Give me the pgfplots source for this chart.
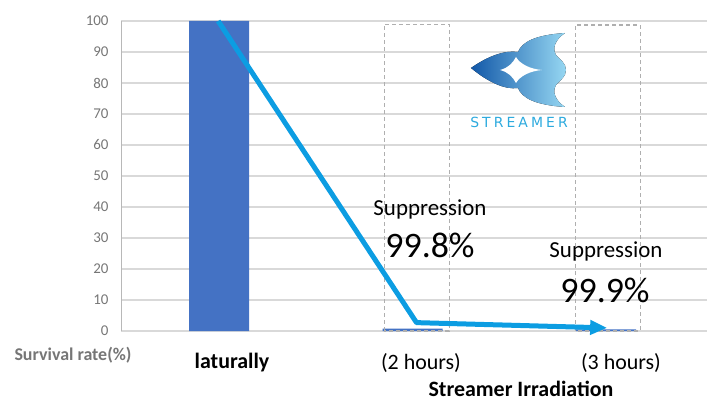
\documentclass[border=0pt]{standalone}
\usepackage{pgfplots}
\pgfplotsset{compat=1.18}
\usepackage{fontspec}
\setmainfont{Carlito}
\newfontfamily\logofont[LetterSpace=22]{DejaVu Sans}
\usetikzlibrary{arrows.meta}
\definecolor{barblue}{RGB}{68,114,196}
\definecolor{lineblue}{RGB}{12,157,226}
\definecolor{gridgray}{RGB}{217,217,217}
\definecolor{ticktxt}{RGB}{118,118,118}
\definecolor{dashgray}{RGB}{175,175,175}
\definecolor{logodark}{RGB}{18,88,168}
\definecolor{logolight}{RGB}{150,215,242}
\definecolor{logotext}{RGB}{45,170,222}
\begin{document}
\begin{tikzpicture}
\path[use as bounding box] (-121bp,-72bp) rectangle (586bp,331bp);
\begin{axis}[
  at={(0,0)}, anchor=south west,
  scale only axis, width=586bp, height=310bp,
  xmin=-0.507, xmax=2.521, ymin=0, ymax=100,
  ytick={0,10,...,100}, xtick=\empty,
  ymajorgrids, grid style={gridgray, line width=1.2bp},
  axis lines*=left,
  axis line style={draw=gridgray!85!black, line width=1bp},
  x axis line style={draw=gridgray, line width=1.2bp},
  major tick length=0pt,
  /pgf/number format/assume math mode=true,
  yticklabel style={font=\fontsize{15}{15}\selectfont, text=ticktxt, xshift=-9bp},
  clip=false,
]
\addplot[ybar, bar width=60bp, fill=barblue, draw=none] coordinates {(0,100) (1,0.8) (2,0.5)};
\draw[dashgray, line width=1.1bp, dash pattern=on 4bp off 3bp] (axis cs:0.853,0) rectangle (axis cs:1.19,99);
\draw[dashgray, line width=1.1bp, dash pattern=on 4bp off 3bp] (axis cs:1.84,0) rectangle (axis cs:2.176,98.7);
\addplot[lineblue, line width=5bp, line join=round, -{Triangle[length=17bp,width=14bp]}] coordinates {(-0.005,100) (1.02,2.7) (2.005,1.0)};
\end{axis}
\begin{scope}[x=1bp, y=-1bp, shift={(-121bp,331bp)}]
  % logo
  \fill[left color=logodark, right color=logolight]
    (471,68) .. controls (488,56) and (505,50) .. (518,52)
    .. controls (522,42) and (535,35) .. (565,33)
    .. controls (555,40) and (552,48) .. (556,55)
    .. controls (560,60) and (566,63) .. (566,70)
    .. controls (566,77) and (560,80) .. (556,85)
    .. controls (552,92) and (555,100) .. (565,107)
    .. controls (535,105) and (522,98) .. (518,88)
    .. controls (505,90) and (488,82) .. (471,68) -- cycle;
  \fill[white] (500,70) .. controls (508,68) and (513,63) .. (516,57)
    .. controls (520,64) and (530,69) .. (542,70)
    .. controls (530,71) and (520,76) .. (516,83)
    .. controls (513,77) and (508,72) .. (500,70) -- cycle;
  \node[text=logotext, font=\logofont\fontsize{14}{14}\selectfont] at (519,122) {STREAMER};
  % annotations
  \node[font=\fontsize{23}{23}\selectfont] at (430,209) {Suppression};
  \node[font=\fontsize{36}{36}\selectfont] at (430,245) {99.8\%};
  \node[font=\fontsize{23}{23}\selectfont] at (606,251) {Suppression};
  \node[font=\fontsize{36}{36}\selectfont] at (605,290) {99.9\%};
  % labels
  \node[font=\bfseries\fontsize{18}{18}\selectfont, text=ticktxt] at (73,355) {Survival rate(\%)};
  \node[font=\bfseries\fontsize{22}{22}\selectfont] at (232,363) {laturally};
  \node[font=\fontsize{22}{22}\selectfont] at (421,363) {(2 hours)};
  \node[font=\fontsize{22}{22}\selectfont] at (621,363) {(3 hours)};
  \node[font=\bfseries\fontsize{22}{22}\selectfont] at (521,389) {Streamer Irradiation};
\end{scope}
\end{tikzpicture}
\end{document}
